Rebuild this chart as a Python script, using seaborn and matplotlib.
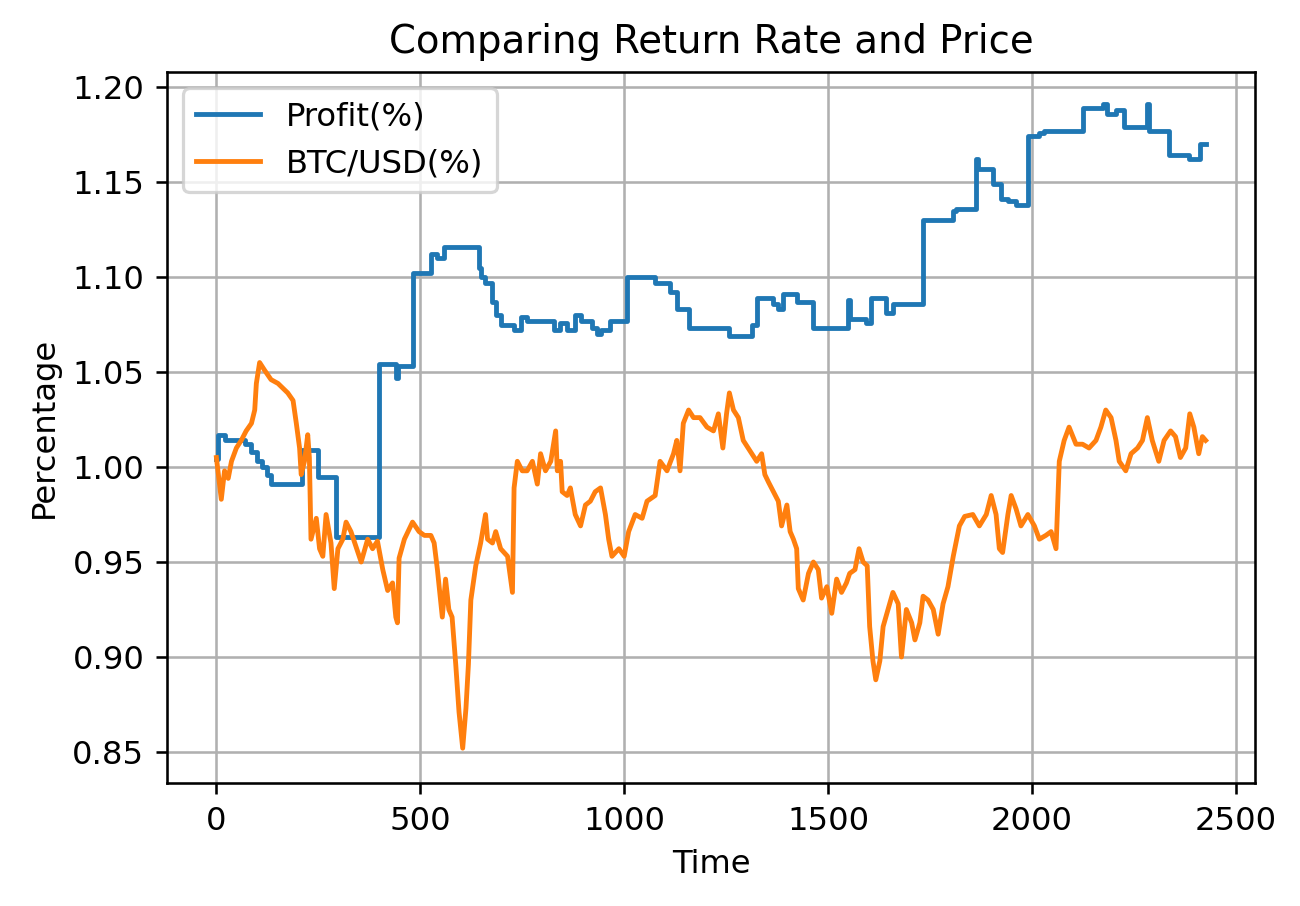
import numpy as np
import pandas as pd
import matplotlib
matplotlib.use("Agg")
import matplotlib.pyplot as plt
import seaborn as sns

# Profit(%) - step curve, breakpoints
profit_t = [0, 4, 22, 70, 85, 100, 112, 125, 135, 210, 250, 293, 399, 440, 446, 481,
            526, 540, 558, 644, 650, 658, 676, 686, 698, 730, 746, 762, 828, 842, 860,
            880, 893, 922, 934, 942, 966, 1007, 1076, 1113, 1130, 1158, 1256, 1313, 1325,
            1366, 1376, 1390, 1423, 1464, 1549, 1555, 1594, 1606, 1643, 1659, 1733, 1806,
            1814, 1863, 1868, 1904, 1924, 1941, 1961, 1990, 2018, 2030, 2124, 2173, 2185,
            2205, 2226, 2283, 2288, 2336, 2385, 2413, 2426]
profit_v = [1.004, 1.017, 1.014, 1.012, 1.008, 1.003, 1.000, 0.996, 0.991, 1.009, 0.995,
            0.963, 1.054, 1.047, 1.053, 1.102, 1.112, 1.110, 1.116, 1.105, 1.100, 1.097,
            1.087, 1.080, 1.075, 1.072, 1.079, 1.077, 1.072, 1.076, 1.072, 1.080, 1.077,
            1.073, 1.070, 1.072, 1.077, 1.100, 1.097, 1.092, 1.083, 1.073, 1.069, 1.075,
            1.089, 1.086, 1.083, 1.091, 1.087, 1.073, 1.088, 1.078, 1.076, 1.089, 1.081,
            1.086, 1.130, 1.135, 1.136, 1.162, 1.157, 1.149, 1.141, 1.140, 1.138, 1.174,
            1.176, 1.177, 1.189, 1.191, 1.186, 1.188, 1.179, 1.191, 1.177, 1.164, 1.162,
            1.170, 1.170]

# BTC/USD(%) - price ratio
btc_t = [0, 12, 20, 29, 37, 49, 61, 73, 86, 94, 98, 106, 118, 134, 151, 175, 188, 196,
         204, 208, 216, 224, 228, 232, 245, 253, 261, 269, 281, 289, 298, 310, 318, 330,
         347, 355, 371, 383, 395, 408, 420, 432, 440, 444, 448, 461, 481, 497, 510, 526,
         534, 542, 554, 562, 570, 578, 587, 595, 604, 612, 618, 624, 636, 648, 660, 665,
         677, 685, 697, 714, 726, 730, 738, 750, 762, 775, 787, 795, 807, 820, 832, 836,
         844, 848, 860, 868, 880, 893, 905, 917, 929, 942, 954, 962, 970, 987, 1000, 1011,
         1027, 1044, 1056, 1076, 1088, 1105, 1121, 1129, 1137, 1145, 1158, 1170, 1186,
         1203, 1219, 1231, 1242, 1251, 1258, 1268, 1280, 1292, 1313, 1325, 1337, 1345,
         1354, 1366, 1378, 1386, 1399, 1407, 1415, 1423, 1427, 1439, 1452, 1464, 1476,
         1484, 1497, 1509, 1521, 1533, 1545, 1553, 1566, 1576, 1586, 1596, 1602, 1610,
         1617, 1627, 1635, 1647, 1659, 1672, 1680, 1692, 1705, 1713, 1725, 1733, 1745,
         1758, 1770, 1782, 1794, 1807, 1822, 1835, 1855, 1871, 1888, 1900, 1912, 1920,
         1928, 1941, 1949, 1961, 1973, 1990, 2006, 2018, 2034, 2047, 2059, 2067, 2079,
         2091, 2108, 2124, 2140, 2157, 2169, 2181, 2194, 2206, 2214, 2230, 2243, 2259,
         2271, 2283, 2295, 2311, 2324, 2340, 2352, 2364, 2377, 2387, 2397, 2409, 2418, 2426]
btc_v = [1.005, 0.983, 0.998, 0.994, 1.003, 1.010, 1.014, 1.019, 1.023, 1.030, 1.044,
         1.055, 1.051, 1.046, 1.044, 1.039, 1.035, 1.023, 1.010, 0.996, 1.003, 1.017,
         1.005, 0.962, 0.973, 0.957, 0.953, 0.975, 0.960, 0.936, 0.957, 0.962, 0.971,
         0.966, 0.955, 0.950, 0.962, 0.957, 0.961, 0.946, 0.935, 0.939, 0.921, 0.918,
         0.952, 0.962, 0.971, 0.966, 0.964, 0.964, 0.960, 0.946, 0.921, 0.941, 0.925,
         0.921, 0.896, 0.871, 0.852, 0.873, 0.896, 0.930, 0.948, 0.960, 0.975, 0.962,
         0.960, 0.966, 0.957, 0.953, 0.934, 0.989, 1.003, 0.998, 0.998, 1.003, 0.991,
         1.007, 0.998, 1.003, 1.019, 0.998, 1.003, 0.987, 0.985, 0.989, 0.975, 0.969,
         0.980, 0.982, 0.987, 0.989, 0.975, 0.962, 0.953, 0.957, 0.953, 0.966, 0.975,
         0.973, 0.982, 0.985, 1.003, 0.998, 1.007, 1.014, 0.998, 1.023, 1.030, 1.026,
         1.026, 1.021, 1.019, 1.028, 1.010, 1.028, 1.039, 1.030, 1.026, 1.014, 1.007,
         1.003, 1.007, 0.996, 0.992, 0.987, 0.982, 0.969, 0.980, 0.966, 0.962, 0.957,
         0.936, 0.930, 0.944, 0.950, 0.946, 0.931, 0.937, 0.923, 0.941, 0.934, 0.939,
         0.944, 0.946, 0.957, 0.950, 0.948, 0.916, 0.898, 0.888, 0.898, 0.916, 0.925,
         0.934, 0.928, 0.900, 0.925, 0.918, 0.909, 0.918, 0.932, 0.930, 0.925, 0.912,
         0.928, 0.937, 0.953, 0.969, 0.974, 0.975, 0.969, 0.975, 0.985, 0.975, 0.957,
         0.955, 0.975, 0.985, 0.978, 0.969, 0.975, 0.969, 0.962, 0.964, 0.966, 0.957,
         1.003, 1.014, 1.021, 1.012, 1.012, 1.010, 1.014, 1.021, 1.030, 1.026, 1.014,
         1.003, 0.998, 1.007, 1.010, 1.014, 1.026, 1.014, 1.003, 1.014, 1.019, 1.016,
         1.005, 1.010, 1.028, 1.021, 1.007, 1.016, 1.014]

profit = pd.DataFrame({"Time": profit_t, "Percentage": profit_v})
btc = pd.DataFrame({"Time": btc_t, "Percentage": btc_v})

dpi = 232
fig, ax = plt.subplots(figsize=(1300 / dpi, 906 / dpi), dpi=dpi)
fig.subplots_adjust(left=0.1285, right=0.9654, top=0.9205, bottom=0.1358)

sns.lineplot(data=profit, x="Time", y="Percentage", ax=ax, color="#1f77b4",
             label="Profit(%)", drawstyle="steps-post", estimator=None)
sns.lineplot(data=btc, x="Time", y="Percentage", ax=ax, color="#ff7f0e",
             label="BTC/USD(%)", estimator=None)

ax.set_xlim(-121, 2547)
ax.set_ylim(0.8337, 1.2079)
ax.set_xticks([0, 500, 1000, 1500, 2000, 2500])
ax.set_yticks([0.85, 0.90, 0.95, 1.00, 1.05, 1.10, 1.15, 1.20])
ax.grid(True)
ax.set_title("Comparing Return Rate and Price")
ax.set_xlabel("Time")
ax.set_ylabel("Percentage")
ax.legend(loc="upper left")

fig.savefig("out.png", dpi=dpi)
